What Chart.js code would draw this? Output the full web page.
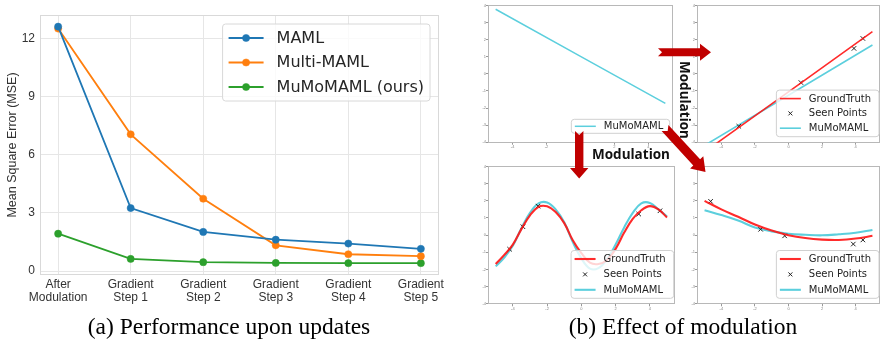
<!DOCTYPE html>
<html><head><meta charset="utf-8">
<script src="https://cdn.jsdelivr.net/npm/chart.js@4.4.1/dist/chart.umd.min.js"></script>
<style>
html,body{margin:0;padding:0;background:#fff;}
body{width:885px;height:339px;position:relative;overflow:hidden;}
canvas{position:absolute;}
.cap{position:absolute;font-family:"Liberation Serif","Times New Roman",serif;font-size:23.5px;color:#000;white-space:nowrap;transform:translate(-50%,0);line-height:1;}
.mod{position:absolute;font-family:"Open Sans",sans-serif;font-weight:700;font-size:13.5px;color:#111;white-space:nowrap;line-height:1;}
svg{position:absolute;left:0;top:0;}
</style></head><body>
<canvas id="main" width="450" height="310" style="left:0;top:0"></canvas>
<canvas id="tl" width="202" height="150" style="left:478px;top:0"></canvas>
<canvas id="tr" width="198" height="150" style="left:687px;top:0"></canvas>
<canvas id="bl" width="202" height="150" style="left:478px;top:160px"></canvas>
<canvas id="br" width="198" height="150" style="left:687px;top:160px"></canvas>
<svg id="arrows" width="885" height="339"></svg>
<div class="mod" style="left:631px;top:155px;transform:translate(-50%,-50%)">Modulation</div>
<div class="mod" style="left:684px;top:100px;transform:translate(-50%,-50%) rotate(90deg)">Modulation</div>
<div class="cap" style="left:229px;top:315px">(a) Performance upon updates</div>
<div class="cap" style="left:683px;top:315px">(b) Effect of modulation</div>
<script>
// ---------- (a) data ----------
const steps = [["After","Modulation"],["Gradient","Step 1"],["Gradient","Step 2"],["Gradient","Step 3"],["Gradient","Step 4"],["Gradient","Step 5"]];
const mseTicks = [0, 3, 6, 9, 12];
const maml      = [12.6, 3.25, 2.02, 1.62, 1.42, 1.15];
const multiMaml = [12.5, 7.05, 3.73, 1.33, 0.87, 0.77];
const mumoMaml  = [1.93, 0.63, 0.46, 0.42, 0.41, 0.41];

// ---------- (b) data ----------
const axisTicksX = [-4, -2, 0, 2, 4];
const axisTicksY = [-4, -3, -2, -1, 0, 1, 2, 3, 4];
// top-left: before modulation
const priorX = [-5, 5];
const prior  = [3.78, -1.73];
// top-right: linear task
const linX     = [-5, 5];
const linTruth = [-4.57, 2.47];
const linModel = [-4.19, 1.69];
const linSeenX = [-2.96, 0.74, 3.9, 4.43];
const linSeenY = [-3.07, -0.51, 1.49, 2.07];
// bottom-left: sinusoid task
const sineX     = [-5, -4.5, -4, -3.5, -3, -2.5, -2, -1.5, -1, -0.5, 0, 0.5, 1, 1.5, 2, 2.5, 3, 3.5, 4, 4.5, 5];
const sineTruth = [-1.68, -1.15, -0.55, 0.35, 1.15, 1.65, 1.68, 1.35, 0.7, -0.3, -1.05, -1.6, -1.68, -1.45, -0.8, 0.15, 0.95, 1.45, 1.69, 1.5, 1.03];
const sineModel = [-1.82, -1.3, -0.62, 0.4, 1.3, 1.85, 1.9, 1.5, 0.75, -0.4, -1.35, -1.95, -1.92, -1.4, -0.55, 0.45, 1.3, 1.85, 1.88, 1.5, 1.1];
const sineSeenX = [-4.19, -3.41, -2.53, 3.35, 4.59];
const sineSeenY = [-0.82, 0.49, 1.69, 1.23, 1.42];
// bottom-right: quadratic task
const quadX     = [-5, -4, -3, -2, -1, 0, 1, 2, 3, 4, 5];
const quadTruth = [2.0, 1.5, 1.07, 0.62, 0.27, 0.0, -0.17, -0.26, -0.28, -0.2, -0.04];
const quadModel = [1.45, 1.17, 0.85, 0.45, 0.22, 0.08, 0.02, -0.01, 0.05, 0.14, 0.3];
const quadSeenX = [-4.64, -1.66, -0.23, 3.86, 4.43];
const quadSeenY = [1.97, 0.34, -0.04, -0.52, -0.28];

// ---------- helpers ----------
const xy = (xs, ys) => xs.map((x, i) => ({x: x, y: ys[i]}));

const framePlugin = {
  id: 'frame',
  beforeDatasetsDraw(chart, args, o) {
    if (!o || !o.color) return;
    const ca = chart.chartArea, ctx = chart.ctx;
    ctx.save();
    ctx.strokeStyle = o.color; ctx.lineWidth = o.width || 1;
    ctx.strokeRect(Math.round(ca.left) + 0.5, Math.round(ca.top) + 0.5, Math.round(ca.right - ca.left) - 1, Math.round(ca.bottom - ca.top) - 1);
    ctx.restore();
  }
};

const boxLegend = {
  id: 'boxLegend',
  afterDatasetsDraw(chart, args, o) {
    if (!o || !o.show) return;
    const ctx = chart.ctx, ca = chart.chartArea;
    const items = chart.data.datasets;
    ctx.save();
    ctx.font = o.fontSize + 'px ' + o.family;
    const tw = Math.max(...items.map(d => ctx.measureText(d.label).width));
    const w = o.padL + o.lineLen + o.gap + tw + o.padR;
    const h = o.padT * 2 + o.rowH * (items.length - 1);
    const x0 = ca.right - o.dx - w;
    const y0 = o.corner === 'tr' ? ca.top + o.dy : ca.bottom - o.dy - h;
    const r = 3;
    ctx.beginPath();
    ctx.moveTo(x0 + r, y0);
    ctx.arcTo(x0 + w, y0, x0 + w, y0 + h, r);
    ctx.arcTo(x0 + w, y0 + h, x0, y0 + h, r);
    ctx.arcTo(x0, y0 + h, x0, y0, r);
    ctx.arcTo(x0, y0, x0 + w, y0, r);
    ctx.closePath();
    ctx.fillStyle = 'rgba(255,255,255,0.8)';
    ctx.fill();
    ctx.strokeStyle = o.edge || '#d6d6d6'; ctx.lineWidth = 1;
    ctx.stroke();
    items.forEach((d, i) => {
      const cy = y0 + o.padT + i * o.rowH;
      const lx = x0 + o.padL;
      if (d.showLine !== false) {
        ctx.beginPath();
        ctx.strokeStyle = d.borderColor; ctx.lineWidth = d.borderWidth;
        ctx.moveTo(lx, cy); ctx.lineTo(lx + o.lineLen, cy); ctx.stroke();
      }
      if (d.legendMarker) {
        ctx.fillStyle = d.pointBackgroundColor || d.borderColor;
        ctx.strokeStyle = d.pointBorderColor || d.borderColor;
        ctx.lineWidth = d.pointBorderWidth || 1;
        Chart.helpers.drawPoint(ctx, {pointStyle: d.pointStyle || 'circle', radius: d.legendRadius || d.pointRadius, rotation: 0, borderWidth: d.pointBorderWidth || 1}, lx + o.lineLen / 2, cy);
      }
      ctx.fillStyle = o.color || '#262626';
      ctx.textBaseline = 'middle'; ctx.textAlign = 'left';
      ctx.fillText(d.label, lx + o.lineLen + o.gap, cy + 0.5);
    });
    ctx.restore();
  }
};
Chart.register(framePlugin, boxLegend);

// ---------- (a) main chart ----------
const stepIdx = steps.map((_, i) => i);
function mainSet(label, vals, color) {
  return {label: label, data: xy(stepIdx, vals), borderColor: color, backgroundColor: color,
    pointBackgroundColor: color, pointBorderColor: color, borderWidth: 1.8, pointRadius: 3.6,
    pointBorderWidth: 0.5, tension: 0, legendMarker: true};
}
new Chart(document.getElementById('main'), {
  type: 'line',
  data: {datasets: [
    mainSet('MAML', maml, '#1f77b4'),
    mainSet('Multi-MAML', multiMaml, '#ff7f0e'),
    mainSet('MuMoMAML (ours)', mumoMaml, '#2ca02c')
  ]},
  options: {
    responsive: false, animation: false, events: [],
    layout: {padding: {top: 15, right: 11, left: 0, bottom: 0}},
    plugins: {
      legend: {display: false}, tooltip: {enabled: false},
      frame: {color: '#d9d9d9', width: 1},
      boxLegend: {show: true, corner: 'tr', dx: 9, dy: 9, padT: 14, rowH: 24.5, padL: 6, lineLen: 35, gap: 13, padR: 6,
        fontSize: 16, family: '"DejaVu Sans", sans-serif', edge: '#d8d8d8', color: '#262626'}
    },
    scales: {
      x: {type: 'linear', min: -0.25, max: 5.25,
        afterBuildTicks: s => { s.ticks = stepIdx.map(v => ({value: v})); },
        afterFit: s => { s.height = 35; },
        ticks: {callback: v => steps[v], autoSkip: false, maxRotation: 0, padding: 3, color: '#333',
          font: {family: '"Liberation Sans", Arial, sans-serif', size: 12, lineHeight: 1.1}},
        grid: {color: '#e6e6e6', drawTicks: false, lineWidth: 1}, border: {display: false}},
      y: {min: -0.2, max: 13.2,
        afterBuildTicks: s => { s.ticks = mseTicks.map(v => ({value: v})); },
        afterFit: s => { s.width = 40; },
        ticks: {padding: 5, color: '#333', font: {family: '"Liberation Sans", Arial, sans-serif', size: 12}},
        grid: {color: '#e6e6e6', drawTicks: false, lineWidth: 1}, border: {display: false},
        title: {display: true, text: 'Mean Square Error (MSE)', color: '#333', padding: {top: 5, bottom: 0},
          font: {family: '"Liberation Sans", Arial, sans-serif', size: 12.5}}}
    }
  }
});

// ---------- (b) small panels ----------
const RED = 'rgba(255,20,20,0.9)';
const CYAN = '#5ccfdd';
function lineSet(label, xs, ys, color, width) {
  return {label: label, data: xy(xs, ys), borderColor: color, backgroundColor: color, borderWidth: width,
    pointRadius: 0, tension: 0.4, fill: false};
}
function seenSet(xs, ys) {
  return {label: 'Seen Points', data: xy(xs, ys), showLine: false, pointStyle: 'crossRot', pointRadius: 3.2,
    pointBorderWidth: 1, borderColor: '#222', backgroundColor: '#222', pointBorderColor: '#222', legendMarker: true, legendRadius: 2.8};
}
function panel(id, datasets, pad, xh, legend) {
  new Chart(document.getElementById(id), {
    type: 'line',
    data: {datasets: datasets},
    options: {
      responsive: false, animation: false, events: [],
      layout: {padding: {top: pad.top, right: pad.right, left: 0, bottom: 0}},
      plugins: {legend: {display: false}, tooltip: {enabled: false},
        frame: {color: '#b8b8b8', width: 1}, boxLegend: legend},
      scales: {
        x: {type: 'linear', min: -5.45, max: 5.45,
          afterBuildTicks: s => { s.ticks = axisTicksX.map(v => ({value: v})); },
          afterFit: s => { s.height = xh; },
          ticks: {autoSkip: false, maxRotation: 0, padding: 0, color: '#888', font: {size: 4}},
          grid: {drawOnChartArea: false, tickLength: 2, color: '#999'}, border: {display: false}},
        y: {min: -4.03, max: 4.03,
          afterBuildTicks: s => { s.ticks = axisTicksY.map(v => ({value: v})); },
          afterFit: s => { s.width = 10; },
          ticks: {padding: 0, color: '#888', font: {size: 4}},
          grid: {drawOnChartArea: false, tickLength: 2, color: '#999'}, border: {display: false}}
      }
    }
  });
}
const smallLeg = {show: true, corner: 'br', padT: 8.5, rowH: 15, padL: 3.5, lineLen: 21, gap: 8, padR: 8,
  fontSize: 10, family: '"DejaVu Sans", sans-serif', edge: '#d0d0d0', color: '#222'};

panel('tl', [lineSet('MuMoMAML', priorX, prior, CYAN, 1.5)], {top: 5, right: 7}, 7.3,
  Object.assign({}, smallLeg, {dx: 3.3, dy: 9.4, padT: 7, padR: 6.5}));
panel('tr', [lineSet('GroundTruth', linX, linTruth, RED, 1.6), seenSet(linSeenX, linSeenY), lineSet('MuMoMAML', linX, linModel, CYAN, 1.6)],
  {top: 5, right: 1}, 7.3, Object.assign({}, smallLeg, {dx: 1, dy: 6, rowH: 14.8}));
panel('bl', [lineSet('GroundTruth', sineX, sineTruth, RED, 2.1), seenSet(sineSeenX, sineSeenY), lineSet('MuMoMAML', sineX, sineModel, CYAN, 2.1)],
  {top: 6, right: 5.3}, 5.7, Object.assign({}, smallLeg, {dx: 1, dy: 6, rowH: 15.4}));
panel('br', [lineSet('GroundTruth', quadX, quadTruth, RED, 2.1), seenSet(quadSeenX, quadSeenY), lineSet('MuMoMAML', quadX, quadModel, CYAN, 2.1)],
  {top: 6, right: 1}, 5.7, Object.assign({}, smallLeg, {dx: 1, dy: 6, rowH: 15.4}));

// ---------- arrows (annotation) ----------
const arrowSpecs = [
  {tail: [658, 52.2], tip: [711, 52.2], w: 4, h: 8.5, hl: 11, n: 4},
  {tail: [579.2, 131], tip: [579.2, 178.5], w: 4.2, h: 9.2, hl: 10.5, n: 4},
  {tail: [665, 128], tip: [705.5, 172], w: 4.6, h: 9, hl: 13, n: 4}
];
const svg = document.getElementById('arrows');
arrowSpecs.forEach(a => {
  const dx = a.tip[0] - a.tail[0], dy = a.tip[1] - a.tail[1];
  const L = Math.hypot(dx, dy), ux = dx / L, uy = dy / L, px = -uy, py = ux;
  const loc = [[0, -a.w], [L - a.hl, -a.w], [L - a.hl, -a.h], [L, 0], [L - a.hl, a.h], [L - a.hl, a.w], [0, a.w], [a.n, 0]];
  const pts = loc.map(([s, t]) => (a.tail[0] + ux * s + px * t).toFixed(1) + ',' + (a.tail[1] + uy * s + py * t).toFixed(1)).join(' ');
  const poly = document.createElementNS('http://www.w3.org/2000/svg', 'polygon');
  poly.setAttribute('points', pts);
  poly.setAttribute('fill', '#c00000');
  svg.appendChild(poly);
});
</script>
</body></html>
